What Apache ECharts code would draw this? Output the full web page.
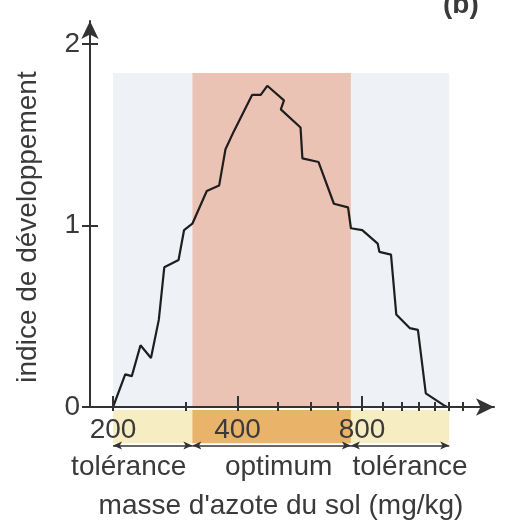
<!DOCTYPE html>
<html>
<head>
<meta charset="utf-8">
<script src="https://cdn.jsdelivr.net/npm/echarts@6/dist/echarts.min.js"></script>
<style>
  html, body { margin: 0; padding: 0; background: #fff; }
  #chart { width: 515px; height: 526px; }
</style>
</head>
<body>
<div id="chart"></div>
<script>
// courbe : indice de développement selon l'azote du sol
const azote = [200, 214, 222, 233, 247, 258, 266, 288, 297, 311, 337, 361, 374, 392, 434, 455, 472, 518, 509, 568, 574, 628, 684, 740, 752, 801, 873, 881, 940, 968, 1043, 1092, 1141, 1260, 1285];
const indice = [0, 0.18, 0.17, 0.34, 0.27, 0.48, 0.77, 0.81, 0.975, 1.01, 1.19, 1.22, 1.42, 1.52, 1.72, 1.72, 1.77, 1.69, 1.64, 1.54, 1.37, 1.35, 1.12, 1.10, 0.985, 0.975, 0.90, 0.855, 0.84, 0.51, 0.435, 0.425, 0.075, 0.01, 0];

// zones : tolérance / optimum / tolérance
const zoneNames = ['tolérance', 'optimum', 'tolérance'];
const zoneBounds = [[200, 311], [311, 752], [752, 1300]];
const zoneTop = 1.84;

const xTicks = [200, 300, 400, 500, 600, 700, 800, 900, 1000, 1100, 1200, 1300, 1400];
const xLabels = [200, 400, 800];
const yTicks = [0, 1, 2];

const FONT = 'Liberation Sans, Arial, sans-serif';
const INK = '#3a3a3a';
const AXIS = '#333';

const bandColors = ['#eef2f6', '#ebc3b5', '#eef2f6'];
const stripColors = ['#f7edc2', '#e9b46a', '#f7edc2'];
const labelShift = [-24, 7, 10];

const X_MIN = 175.9, X_MAX = 1668, Y_MAX = 2.127;

const chart = echarts.init(document.getElementById('chart'));

const logX = (grid, extra) => Object.assign({
    type: 'log', gridIndex: grid, min: X_MIN, max: X_MAX, position: 'bottom', offset: 0,
    splitLine: { show: false }, axisLabel: { show: false },
    axisLine: { show: false, onZero: false }, axisTick: { show: false }
}, extra);

chart.setOption({
    backgroundColor: '#fff',
    animation: false,
    textStyle: { fontFamily: FONT },
    title: {
        text: '(b)', left: 438, top: -14,
        textStyle: { fontSize: 28, fontWeight: 'bold', color: INK, fontFamily: FONT }
    },
    grid: [
        { left: 90, right: 21, top: 21, bottom: 119 },
        { left: 90, right: 21, top: 410, height: 37 }
    ],
    xAxis: [
        logX(0, {
            z: 10,
            axisLine: { show: true, onZero: false, symbol: ['none', 'arrow'], symbolSize: [13, 18], lineStyle: { color: AXIS, width: 2 } },
            axisTick: { show: true, customValues: xTicks, inside: false, length: 4, lineStyle: { color: AXIS, width: 2 } },
            axisLabel: { show: true, customValues: xLabels, fontSize: 28, margin: 9, color: INK, fontFamily: FONT }
        }),
        logX(0, { z: 10, axisTick: { show: true, customValues: xTicks, inside: true, length: 5, lineStyle: { color: AXIS, width: 2 } } }),
        logX(0, { z: 10, axisTick: { show: true, customValues: xLabels, inside: true, length: 11, lineStyle: { color: AXIS, width: 2 } } }),
        logX(1, {
            name: "masse d'azote du sol (mg/kg)", nameLocation: 'middle', nameGap: 45,
            nameTextStyle: { fontSize: 28, color: INK, fontFamily: FONT, padding: [0, 22, 0, 0] }
        })
    ],
    yAxis: [
        {
            type: 'value', gridIndex: 0, min: 0, max: Y_MAX, position: 'left', offset: 0, z: 10,
            splitLine: { show: false },
            axisLine: { show: true, onZero: false, symbol: ['none', 'arrow'], symbolSize: [13, 18], lineStyle: { color: AXIS, width: 2 } },
            axisTick: { show: true, customValues: yTicks, length: 8, lineStyle: { color: AXIS, width: 2 } },
            axisLabel: { customValues: yTicks, fontSize: 28, margin: 10, color: INK, fontFamily: FONT },
            name: 'indice de développement', nameLocation: 'middle', nameGap: 48,
            nameTextStyle: { fontSize: 28, color: INK, fontFamily: FONT, padding: [0, 26, 0, 0] }
        },
        {
            type: 'value', gridIndex: 0, min: 0, max: Y_MAX, position: 'left', offset: 0, z: 10,
            splitLine: { show: false }, axisLine: { show: false, onZero: false }, axisLabel: { show: false },
            axisTick: { show: true, customValues: yTicks, inside: true, length: 8, lineStyle: { color: AXIS, width: 2 } }
        },
        { type: 'value', gridIndex: 1, min: 0, max: 1, show: false }
    ],
    series: [
        {
            type: 'line', xAxisIndex: 0, yAxisIndex: 0,
            data: azote.map((v, i) => [v, indice[i]]),
            showSymbol: false, symbol: 'none',
            lineStyle: { color: '#1e1e1e', width: 2.2 },
            z: 5,
            markArea: {
                silent: true,
                data: zoneBounds.map((b, i) => [
                    { xAxis: b[0], yAxis: 0, itemStyle: { color: bandColors[i] } },
                    { xAxis: b[1], yAxis: zoneTop }
                ])
            }
        },
        {
            type: 'line', xAxisIndex: 3, yAxisIndex: 2, data: [], z: 1,
            markArea: {
                silent: true,
                label: { show: true, position: 'bottom', distance: 10, fontSize: 28, color: INK, fontFamily: FONT },
                data: zoneBounds.map((b, i) => [
                    { name: zoneNames[i], xAxis: b[0], yAxis: 0.1, itemStyle: { color: stripColors[i] }, label: { offset: [labelShift[i], 0] } },
                    { xAxis: b[1], yAxis: 1 }
                ])
            },
            markLine: {
                silent: true,
                symbol: ['arrow', 'arrow'], symbolSize: [6, 9],
                label: { show: false },
                lineStyle: { color: '#333', width: 1.5, type: 'solid' },
                data: zoneBounds.map(b => [{ coord: [b[0], 0.04] }, { coord: [b[1], 0.04] }])
            }
        }
    ]
});
</script>
</body>
</html>
